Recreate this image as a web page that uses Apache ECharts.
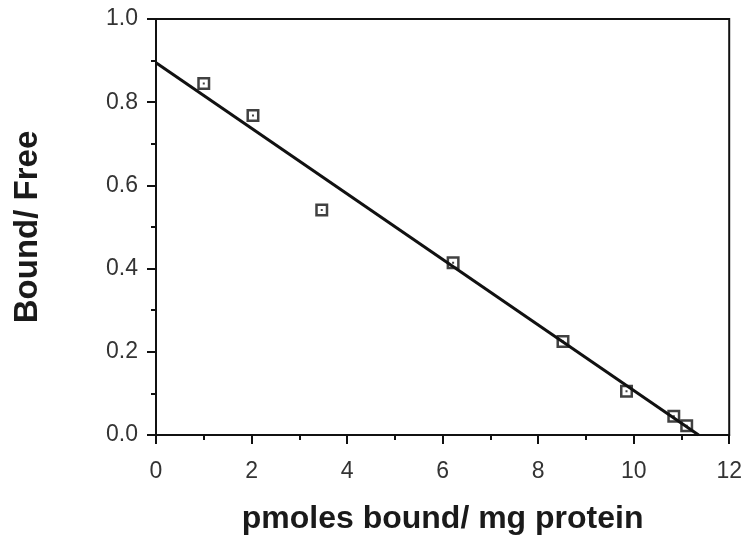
<!DOCTYPE html>
<html>
<head>
<meta charset="utf-8">
<script src="https://cdn.jsdelivr.net/npm/echarts@6/dist/echarts.min.js"></script>
<style>html,body{margin:0;padding:0;background:#fff}#c{width:745px;height:540px}</style>
</head>
<body>
<div id="c"></div>
<script>
// Data
const boundX = [1.0, 2.03, 3.47, 6.22, 8.52, 9.85, 10.84, 11.11];
const ratioY = [0.845, 0.768, 0.541, 0.414, 0.225, 0.105, 0.045, 0.022];
const fitX = [0, 11.36];
const fitY = [0.895, 0];
const xTitle = 'pmoles bound/ mg protein';
const yTitle = 'Bound/ Free';

const pts = boundX.map((x, i) => [x, ratioY[i]]);
const fit = fitX.map((x, i) => [x, fitY[i]]);

const chart = echarts.init(document.getElementById('c'), null, {renderer: 'canvas'});
const symPath = 'path://M0,0H13V13H0Z M2.5,2.5V10.5H10.5V2.5Z M5.5,5.5H7.5V7.5H5.5Z';
chart.setOption({
  animation: false,
  backgroundColor: '#ffffff',
  grid: {left: 156, right: 14, top: 19, bottom: 103, show: true, borderColor: '#111', borderWidth: 2, backgroundColor: 'transparent'},
  xAxis: {
    type: 'value', min: 0, max: 12, interval: 2,
    name: xTitle, nameLocation: 'middle', nameGap: 68,
    nameTextStyle: {fontFamily: 'Liberation Sans', fontWeight: 'bold', fontSize: 32, color: '#1a1a1a'},
    axisLine: {lineStyle: {color: '#111', width: 2}},
    axisTick: {show: true, length: 9, inside: false, lineStyle: {color: '#111', width: 2}},
    minorTick: {show: true, splitNumber: 2, length: 5, lineStyle: {color: '#111', width: 2}},
    axisLabel: {fontFamily: 'Liberation Sans', fontSize: 23, color: '#333', margin: 25},
    splitLine: {show: false}
  },
  yAxis: {
    type: 'value', min: 0, max: 1, interval: 0.2,
    name: yTitle, nameLocation: 'middle', nameGap: 112, nameRotate: 90,
    nameTextStyle: {fontFamily: 'Liberation Sans', fontWeight: 'bold', fontSize: 33, color: '#1a1a1a'},
    axisLine: {lineStyle: {color: '#111', width: 2}},
    axisTick: {show: true, length: 9, inside: false, lineStyle: {color: '#111', width: 2}},
    minorTick: {show: true, splitNumber: 2, length: 5, lineStyle: {color: '#111', width: 2}},
    axisLabel: {fontFamily: 'Liberation Sans', fontSize: 23, color: '#333', margin: 18,
      formatter: v => v.toFixed(1)},
    splitLine: {show: false}
  },
  series: [
    {
      type: 'line', data: fit, showSymbol: false, symbol: 'none',
      lineStyle: {color: '#111', width: 3}, z: 2
    },
    {
      type: 'scatter', data: pts, symbol: symPath, symbolSize: 13,
      itemStyle: {color: '#111'}, z: 3
    }
  ]
});
</script>
</body>
</html>
